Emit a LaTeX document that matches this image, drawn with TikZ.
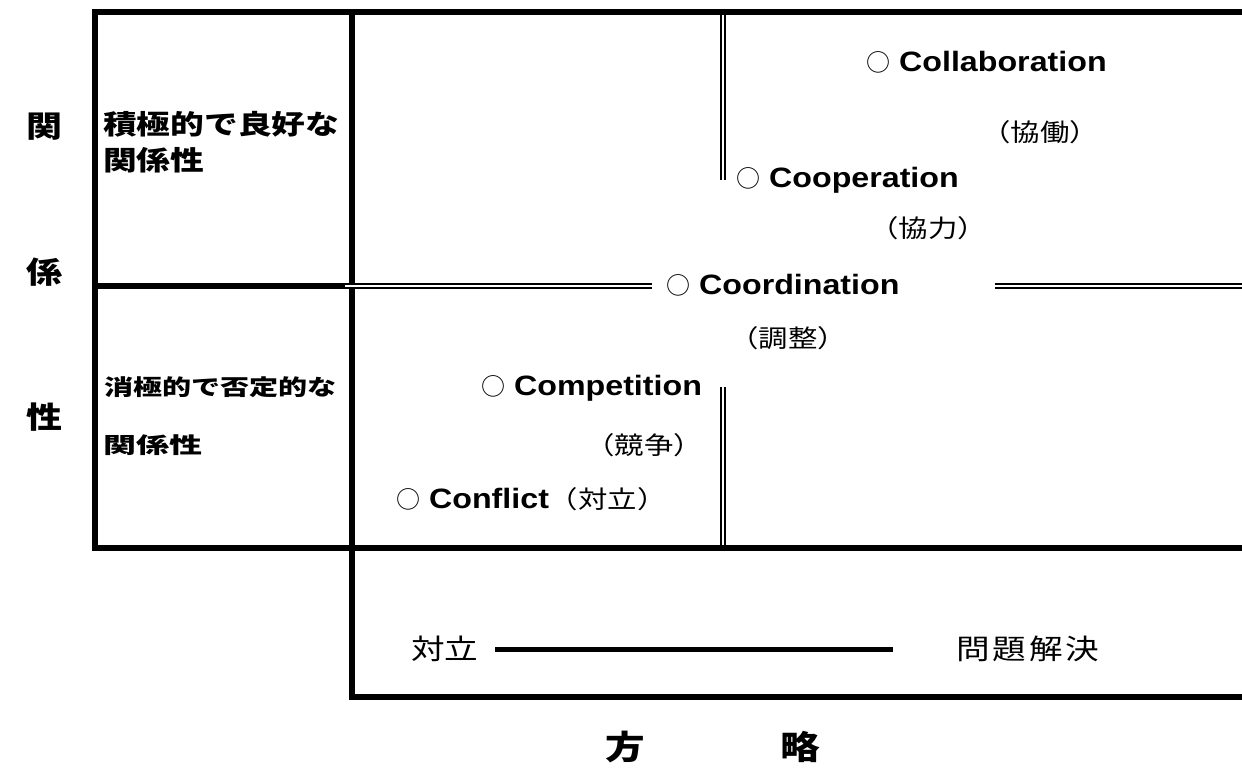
\documentclass[tikz,border=0pt]{standalone}
\usepackage{fontspec}
\setmainfont{Liberation Sans}[FakeStretch=1.15]
\newfontfamily\circf{Noto Sans CJK JP}
\newfontfamily\jp{Noto Sans CJK JP}[FakeStretch=1.2]
\newfontfamily\jpu{Noto Sans CJK JP}[FakeStretch=1.25]
\newfontfamily\jpw{Noto Sans CJK JP}[FakeStretch=1.32]
\newfontfamily\jpx{Noto Sans CJK JP}[FakeStretch=1.5]
\newcommand{\wc}{{\circf\mdseries\fontsize{24}{26}\selectfont ○}}
\begin{document}
\begin{tikzpicture}[x=1pt,y=-1pt,
  thickline/.style={line width=5.5pt, line join=miter},
  dbl/.style={double=white, line width=2pt, double distance=2.6pt},
  en/.style={anchor=west, inner sep=0pt, font=\fontsize{28}{30}\selectfont\bfseries},
  par/.style={inner sep=0pt, font=\jp\fontsize{24.5}{28}\selectfont},
  bigjp/.style={inner sep=0pt, font=\jp\fontsize{30}{32}\selectfont\bfseries},
  upjp/.style={anchor=west, inner sep=0pt, font=\jpu\fontsize{27}{29}\selectfont\bfseries},
  lowjp/.style={anchor=west, inner sep=0pt, font=\jpw\fontsize{22}{24}\selectfont\bfseries},
  axjp/.style={anchor=west, inner sep=0pt, font=\jp\fontsize{28}{30}\selectfont}
]
\useasboundingbox (0,0) rectangle (1242,769);
% frame
\draw[thickline] (1242,12) -- (95,12) -- (95,548) -- (1242,548);
\draw[thickline] (352,12) -- (352,697) -- (1242,697);
\draw[thickline] (95,286) -- (345,286);
\draw[dbl] (345,286) -- (652,286);
\draw[dbl] (995,286) -- (1242,286);
\draw[dbl] (723,15) -- (723,180);
\draw[dbl] (723,387) -- (723,545);
% left column
\node[bigjp] (k1) at (45,127) {関};
\node[bigjp] (k2) at (45,272) {係};
\node[bigjp] (k3) at (45,417) {性};
\node[upjp] (u1) at (103,124) {積極的で良好な};
\node[upjp] (u2) at (103,160) {関係性};
\node[lowjp] (l1) at (104,387) {消極的で否定的な};
\node[lowjp, font=\jpx\fontsize{22}{24}\selectfont\bfseries] (l2) at (103,445) {関係性};
% strategies
\node[en] (c1) at (866,62) {\wc{} Collaboration};
\node[par] (p1) at (1040,132) {（協働）};
\node[en] (c2) at (736,180) {\wc{} Cooperation};
\node[par] (p2) at (928,228) {（協力）};
\node[en] (c3) at (666,285) {\wc{} Coordination};
\node[par] (p3) at (788,338) {（調整）};
\node[en] (c4) at (481,388) {\wc{} Competition};
\node[par] (p4) at (644,445) {（競争）};
\node[en] (c5) at (396,499) {\wc{} Conflict{\jp\mdseries\fontsize{24.5}{28}\selectfont （対立）}};
% axis
\node[axjp] (a1) at (411,649) {対立};
\node[axjp] (a2) at (956,649) {問\hspace{3pt}題\hspace{3pt}解\hspace{3pt}決};
\coordinate (ls) at (495,649);
\coordinate (le) at (893,649);
\draw[line width=5pt] (ls) -- (le);
\node[bigjp, font=\jp\fontsize{33}{35}\selectfont\bfseries] (b1) at (625,747) {方};
\node[bigjp, font=\jp\fontsize{33}{35}\selectfont\bfseries] (b2) at (800,747) {略};
\end{tikzpicture}
\end{document}
